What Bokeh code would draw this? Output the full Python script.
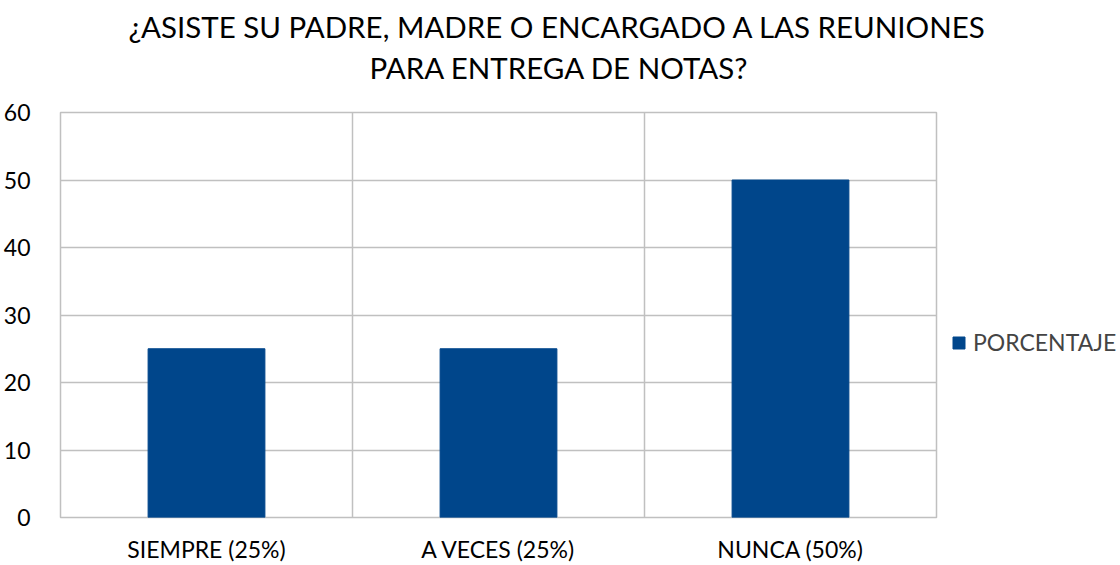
from bokeh.plotting import figure
from bokeh.models import (ColumnDataSource, FixedTicker, Legend, LegendItem, Title, Range1d)
from bokeh.embed import file_html
from bokeh.resources import INLINE

categories = ["SIEMPRE (25%)", "A VECES (25%)", "NUNCA (50%)"]
values = [25, 25, 50]
series_name = "PORCENTAJE"
y_ticks = [0, 10, 20, 30, 40, 50, 60]
title_lines = ["¿ASISTE SU PADRE, MADRE O ENCARGADO A LAS REUNIONES", "PARA ENTREGA DE NOTAS?"]

FONT = "Lato"
BAR = "#00468B"
GRID = "#C0C0C0"

xs = [i + 0.5 for i in range(len(categories))]
src = ColumnDataSource(dict(x=xs, top=values, label=categories))

p = figure(output_backend="svg", toolbar_location=None,
           x_range=Range1d(0, len(categories)), y_range=Range1d(0, 60),
           frame_width=876, frame_height=405,
           min_border_left=54, min_border_right=0, min_border_bottom=0, min_border_top=0)

r = p.vbar(x="x", top="top", width=0.4, source=src, fill_color=BAR, line_color=BAR)

# spacer between the frame and the title block
p.add_layout(Title(text=" ", text_font_size="10px", standoff=17), "above")
# titles (added bottom-up)
offsets = [68, 309]
standoffs = [12, -4]
for t, o, s in reversed(list(zip(title_lines, offsets, standoffs))):
    p.add_layout(Title(text=t, align="left", offset=o, text_font=FONT,
                       text_font_size="29.5px", text_font_style="normal",
                       text_color="#000000", standoff=s), "above")

p.xaxis.ticker = FixedTicker(ticks=xs)
p.xaxis.major_label_overrides = {x: c for x, c in zip(xs, categories)}
p.yaxis.ticker = FixedTicker(ticks=y_ticks)
for ax in (p.xaxis[0], p.yaxis[0]):
    ax.axis_line_color = None
    ax.major_tick_line_color = None
    ax.minor_tick_line_color = None
    ax.major_label_text_font = FONT
    ax.major_label_text_font_size = "23px"
    ax.major_label_text_color = "#000000"
p.xaxis.major_label_standoff = 11
p.yaxis.major_label_standoff = 24

p.xgrid.ticker = FixedTicker(ticks=list(range(len(categories) + 1)))
p.ygrid.ticker = FixedTicker(ticks=y_ticks)
p.xgrid.grid_line_color = GRID
p.ygrid.grid_line_color = GRID
p.xgrid.grid_line_width = 1.5
p.ygrid.grid_line_width = 1.5
p.outline_line_color = GRID
p.outline_line_width = 1.5

legend = Legend(items=[LegendItem(label=series_name, renderers=[r])],
                location=(15, 161), border_line_color=None, background_fill_alpha=0,
                label_text_font=FONT, label_text_font_size="23px",
                glyph_width=15, glyph_height=15, label_standoff=7, label_height=24,
                padding=0, margin=0)
p.add_layout(legend, "right")

open("out.html", "w").write(file_html(p, INLINE))
